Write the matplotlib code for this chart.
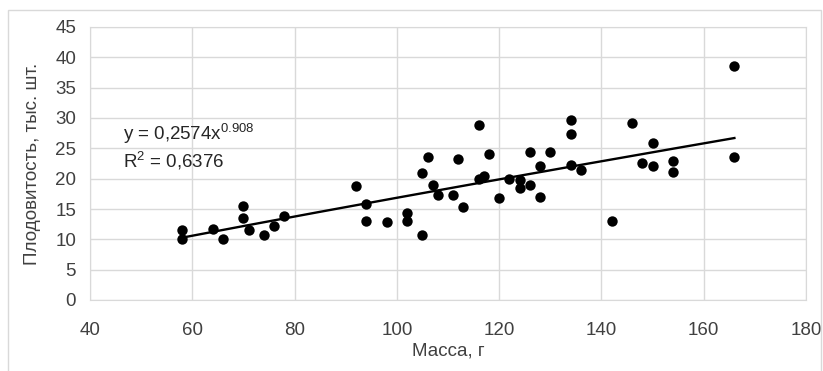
import numpy as np
import matplotlib
matplotlib.use("Agg")
import matplotlib.pyplot as plt
from matplotlib.patches import Rectangle

plt.rcParams["font.family"] = ["Liberation Sans", "DejaVu Sans"]
plt.rcParams["mathtext.default"] = "regular"

# Масса, г
mass = [58, 58, 64, 66, 70, 70, 71, 74, 76, 78,
        92, 94, 94, 98, 102, 102, 105, 105, 106, 107,
        108, 111, 112, 113, 116, 116, 117, 118, 120, 122,
        124, 124, 126, 126, 128, 128, 130, 134, 134, 134,
        136, 142, 146, 148, 150, 150, 154, 154, 166, 166]
# Плодовитость, тыс. шт.
fecundity = [11.5, 10.1, 11.75, 10.0, 15.5, 13.5, 11.5, 10.65, 12.2, 13.9,
             18.8, 15.9, 13.1, 12.8, 14.3, 13.1, 20.9, 10.65, 23.6, 18.9,
             17.3, 17.3, 23.3, 15.4, 28.8, 20.0, 20.5, 24.0, 16.75, 20.0,
             19.8, 18.4, 24.4, 18.9, 22.1, 17.0, 24.4, 29.7, 27.3, 22.2,
             21.4, 13.1, 29.2, 22.5, 25.9, 22.1, 22.95, 21.1, 38.6, 23.6]

# power trendline as displayed on the chart
coef_a = 0.2574
coef_b = 0.908
r_squared = 0.6376

fig = plt.figure(figsize=(8.23, 3.71), dpi=100)
ax = fig.add_axes([90 / 823, 1 - 300 / 371, 716 / 823, 273 / 371])

fig.patches.append(Rectangle((8 / 823, -0.05), 813 / 823, 1.05 - 10 / 371,
                             transform=fig.transFigure, fill=False,
                             edgecolor="#d9d9d9", linewidth=1.0))

grid_col = "#d9d9d9"
text_col = "#404040"
fs = 13.5

x_fit = np.linspace(min(mass), max(mass), 200)
y_fit = coef_a * x_fit ** coef_b
ax.plot(x_fit, y_fit, color="black", linewidth=1.7, zorder=2)
ax.scatter(mass, fecundity, s=56, color="black", zorder=3, linewidths=0)

ax.set_xlim(40, 180)
ax.set_ylim(0, 45)
ax.set_xticks(range(40, 181, 20))
ax.set_yticks(range(0, 46, 5))
ax.grid(True, color=grid_col, linewidth=1.0)
ax.set_axisbelow(True)
for sp in ax.spines.values():
    sp.set_color(grid_col)
ax.tick_params(length=0, labelsize=fs, colors=text_col)
ax.tick_params(axis="x", pad=16)
ax.tick_params(axis="y", pad=10)

ax.set_xlabel("Масса, г", fontsize=fs, color=text_col, labelpad=2)
ax.set_ylabel("Плодовитость, тыс. шт.", fontsize=fs, color=text_col, labelpad=10)

ax.text(46.4, 26.4, "y = 0,2574x$^{0.908}$", fontsize=fs, color="#262626")
ax.text(46.4, 21.9, "R$^{2}$ = 0,6376", fontsize=fs, color="#262626")

fig.savefig("out.png", dpi=100)
